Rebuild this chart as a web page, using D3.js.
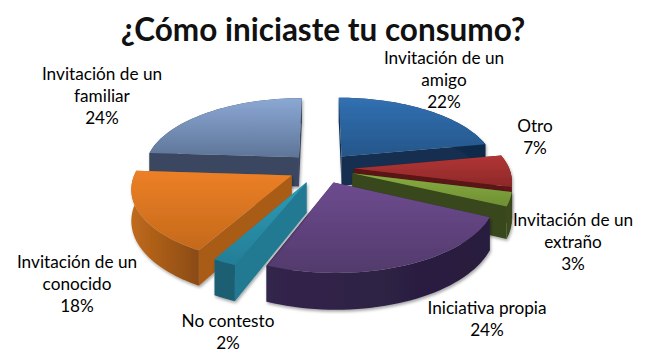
<!DOCTYPE html>
<html lang="es">
<head>
<meta charset="utf-8">
<title>¿Cómo iniciaste tu consumo?</title>
<script src="https://d3js.org/d3.v7.min.js"></script>
<style>
  html, body { margin: 0; padding: 0; background: #fff; }
  svg { display: block; font-family: Lato, "Open Sans", sans-serif; }
</style>
</head>
<body>
<div id="chart"></div>
<script>
var title = "¿Cómo iniciaste tu consumo?";
var categories = ["Invitación de un amigo", "Otro", "Invitación de un extraño", "Iniciativa propia",
                  "No contesto", "Invitación de un conocido", "Invitación de un familiar"];
var values = [22, 7, 3, 24, 2, 18, 24];

// top face light/dark, cut wall, outer wall light/dark
var palette = [
  ["#3170b2", "#255689", "#132f4f", "#17365a", "#10294a"],
  ["#b23535", "#8d2929", "#5a1214", "#6b1719", "#5a1214"],
  ["#88ad41", "#6f8f34", "#38461a", "#3d4c1c", "#38461a"],
  ["#6e4b8f", "#523a6c", "#3a2a52", "#33254c", "#281c3c"],
  ["#2f9bb6", "#237e96", "#217a92", "#1a5f72", "#1a5f72"],
  ["#ec8026", "#c4691b", "#a95b16", "#c06a1c", "#8a4b12"],
  ["#8ba8d4", "#5e7598", "#3a4660", "#3a4660", "#3a4660"]
];
// painter's order, back slices first
var drawOrder = [6, 0, 1, 2, 5, 3, 4];
// centre of each label block
var labelPos = [[444, 64], [535, 132], [573, 226], [487, 314], [228, 327], [77, 268], [102, 80]];

var width = 661, height = 360;
var cx = 321, cy = 168;
var R = 155, explode = 33, depth = 30;
var tilt = 0.46, persp = 0.001;

var svg = d3.select("#chart").append("svg").attr("width", width).attr("height", height);
var defs = svg.append("defs");

var shadow = defs.append("filter").attr("id", "shadow")
  .attr("x", "-10%").attr("y", "-10%").attr("width", "120%").attr("height", "125%");
shadow.append("feDropShadow").attr("dx", 1).attr("dy", 2).attr("stdDeviation", 1.6)
  .attr("flood-color", "#000").attr("flood-opacity", 0.35);

// ground plane to screen, with a bit of perspective
function project(px, pz, down) {
  var s = 1 / (1 - persp * pz);
  return [cx + px * s, cy + pz * tilt * s + (down || 0) * s];
}

var pie = d3.pie().sort(null).value(function(d) { return d; })(values);
var line = d3.line();

pie.forEach(function(d, i) {
  var c = palette[i];
  var top = defs.append("linearGradient").attr("id", "top" + i)
    .attr("x1", 0).attr("y1", 0).attr("x2", 0).attr("y2", 1);
  top.append("stop").attr("offset", "0%").attr("stop-color", c[0]);
  top.append("stop").attr("offset", "100%").attr("stop-color", c[1]);
  var wall = defs.append("linearGradient").attr("id", "wall" + i);
  wall.append("stop").attr("offset", "0%").attr("stop-color", c[3]);
  wall.append("stop").attr("offset", "100%").attr("stop-color", c[4]);
});

drawOrder.forEach(function(i) {
  var d = pie[i];
  var mid = (d.startAngle + d.endAngle) / 2;
  var ox = explode * Math.sin(mid), oz = -explode * Math.cos(mid);
  var steps = d3.range(0, 41).map(function(k) {
    return d.startAngle + (d.endAngle - d.startAngle) * k / 40;
  });
  function rim(a, down) { return project(ox + R * Math.sin(a), oz - R * Math.cos(a), down); }
  var apex = project(ox, oz, 0), apexLow = project(ox, oz, depth);
  var g = svg.append("g").attr("filter", "url(#shadow)");

  // cut walls
  [d.startAngle, d.endAngle].forEach(function(a) {
    g.append("path")
      .attr("d", line([apex, rim(a, 0), rim(a, depth), apexLow]) + "Z")
      .attr("fill", palette[i][2]);
  });
  // outer wall
  var upper = steps.map(function(a) { return rim(a, 0); });
  var lower = steps.map(function(a) { return rim(a, depth); }).reverse();
  g.append("path")
    .attr("d", line(upper.concat(lower)) + "Z")
    .attr("fill", "url(#wall" + i + ")");
  // top face
  g.append("path")
    .attr("d", line([apex].concat(upper)) + "Z")
    .attr("fill", "url(#top" + i + ")");
});

svg.append("text")
  .attr("x", 323).attr("y", 41)
  .attr("text-anchor", "middle")
  .attr("font-size", 31.5).attr("font-weight", 700).attr("fill", "#111")
  .text(title);

categories.forEach(function(name, i) {
  var lines = name.replace("de un ", "de un\n").split("\n").concat([values[i] + "%"]);
  var text = svg.append("text")
    .attr("text-anchor", "middle")
    .attr("font-size", 17.2).attr("fill", "#000");
  lines.forEach(function(l, j) {
    text.append("tspan")
      .attr("x", labelPos[i][0])
      .attr("y", labelPos[i][1] + j * 22)
      .text(l);
  });
});
</script>
</body>
</html>
